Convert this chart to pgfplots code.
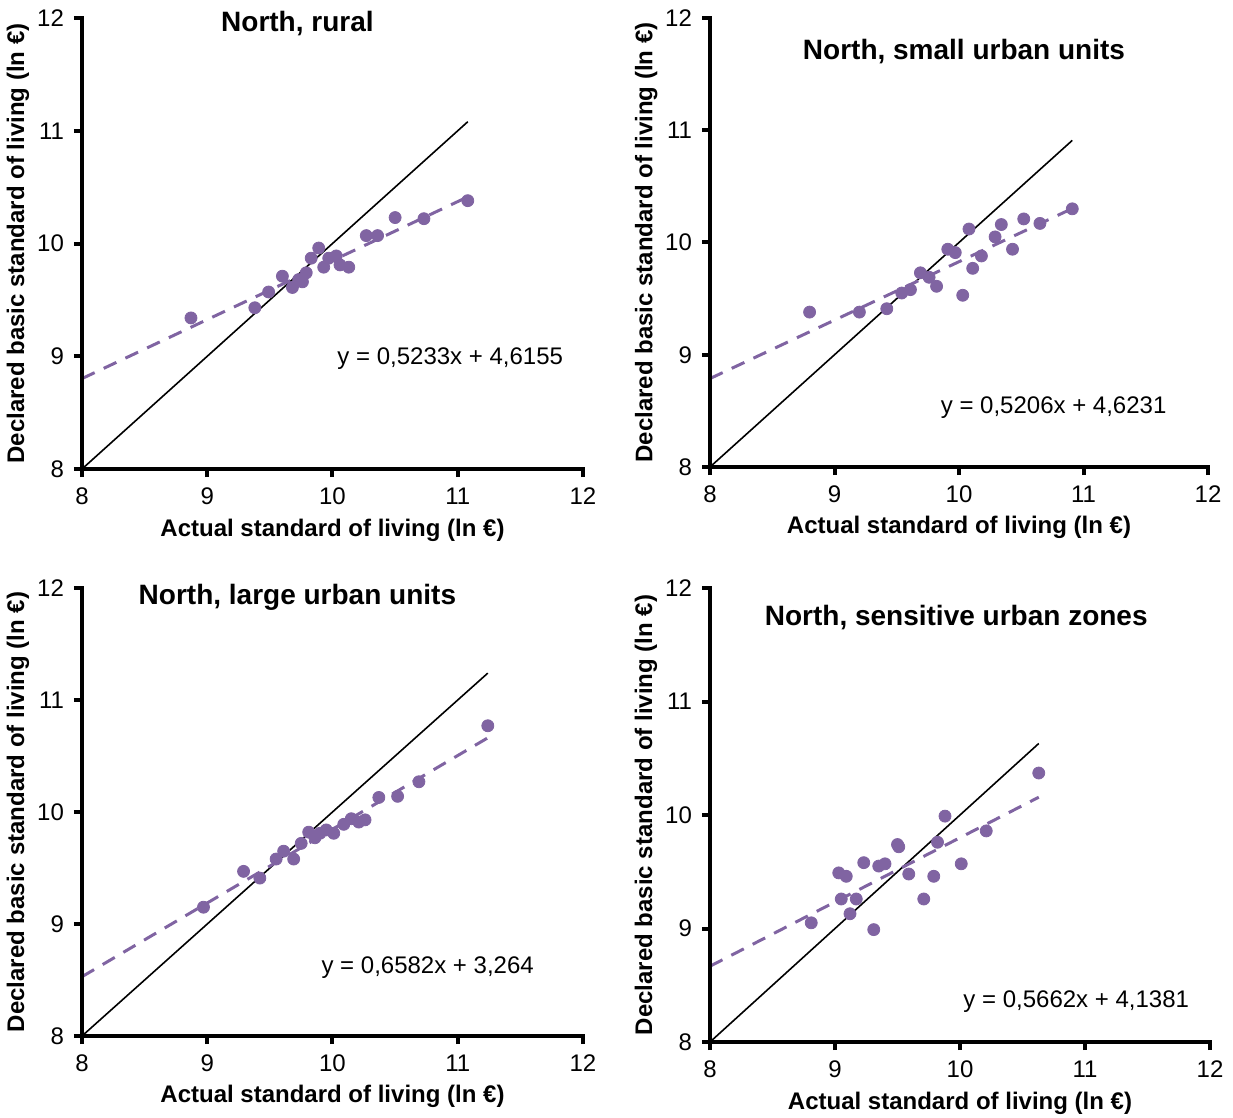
\documentclass[border=0pt]{standalone}
\usepackage{pgfplots}
\pgfplotsset{compat=1.18}
\usetikzlibrary{calc}
\usepackage{fontspec}
\setmainfont{Liberation Sans}
\definecolor{pts}{HTML}{8064A2}
\pgfplotsset{
ptsty/.style={only marks, mark=*, mark size=3pt, color=pts, mark options={draw=pts, fill=pts}},
regsty/.style={color=pts, line width=1.5pt, dash pattern=on 7pt off 5pt, no marks},
idsty/.style={black, line width=0.8pt, no marks},
}
\tikzset{
titlesty/.style={font=\bfseries\fontsize{14}{17}\selectfont},
eqsty/.style={font=\fontsize{12}{14}\selectfont},
}
\pgfplotsset{myax/.style={
  scale only axis,
  xmin=8,xmax=12,ymin=8,ymax=12,
  xtick={8,9,10,11,12}, ytick={8,9,10,11,12},
  axis lines=left,
  axis line style={-, line width=2pt},
  tick align=outside,
  major tick length=4pt,
  tick style={black, line width=2pt},
  tick label style={font=\fontsize{12}{14}\selectfont},
  xticklabel shift=2pt, yticklabel shift=1.5pt,
  xlabel={Actual standard of living (ln €)},
  ylabel={Declared basic standard of living (ln €)},
  label style={font=\bfseries\fontsize{12}{14}\selectfont},
  xlabel style={at={(axis description cs:0.5,-0.135)},anchor=center},
  ylabel style={at={(axis description cs:-0.128,0.5)},anchor=center},
  clip=false,
  /pgf/number format/assume math mode=true,
}}
\newcommand{\deco}[1]{%
  \draw[black, line width=2pt, line cap=rect] (#1.north west) -- (#1.south west) -- (#1.south east);
  \foreach \f in {0,0.25,0.5,0.75,1} {
    \draw[black, line width=2pt] ($(#1.south west)!\f!(#1.south east)$) -- ++(0pt,-4pt);
    \draw[black, line width=2pt] ($(#1.south west)!\f!(#1.north west)$) -- ++(-4pt,0pt);
  }%
}
\begin{document}
\begin{tikzpicture}
% Panel 1
\begin{axis}[myax, name=pA, at={(41pt,-234.5pt)}, anchor=south west, width=250.5pt, height=225.5pt]
\addplot[idsty] coordinates {(8,8) (11.08,11.08)};
\addplot[regsty] coordinates {(8,8.8019) (11.08,10.4137)};
\addplot[ptsty] coordinates {
(8.87,9.34) (9.38,9.43) (9.49,9.57) (9.60,9.71) (9.68,9.61) (9.73,9.68) (9.76,9.66)
(9.79,9.74) (9.83,9.87) (9.89,9.96) (9.93,9.79) (9.97,9.87) (10.03,9.89) (10.06,9.81)
(10.13,9.79) (10.27,10.07) (10.36,10.07) (10.50,10.23) (10.73,10.22) (11.08,10.38)};
\node[titlesty] at (axis cs:9.72,11.95) {North, rural};
\node[eqsty] at (axis cs:10.94,8.98) {y = 0,5233x + 4,6155};
\end{axis}
\deco{pA}
% Panel 2
\begin{axis}[myax, name=pB, at={(355pt,-233.5pt)}, anchor=south west, width=249pt, height=224.5pt]
\addplot[idsty] coordinates {(8,8) (10.91,10.91)};
\addplot[regsty] coordinates {(8,8.7879) (10.91,10.3028)};
\addplot[ptsty] coordinates {
(8.80,9.38) (9.20,9.38) (9.42,9.41) (9.54,9.55) (9.61,9.58) (9.69,9.73) (9.76,9.69)
(9.82,9.61) (9.91,9.94) (9.97,9.91) (10.03,9.53) (10.08,10.12) (10.11,9.77) (10.18,9.88)
(10.29,10.05) (10.34,10.16) (10.43,9.94) (10.52,10.21) (10.65,10.17) (10.91,10.30)};
\node[titlesty] at (axis cs:10.04,11.70) {North, small urban units};
\node[eqsty] at (axis cs:10.76,8.53) {y = 0,5206x + 4,6231};
\end{axis}
\deco{pB}
% Panel 3
\begin{axis}[myax, name=pC, at={(41pt,-518pt)}, anchor=south west, width=250.5pt, height=224pt]
\addplot[idsty] coordinates {(8,8) (11.24,11.24)};
\addplot[regsty] coordinates {(8,8.5296) (11.24,10.6622)};
\addplot[ptsty] coordinates {
(8.97,9.15) (9.29,9.47) (9.42,9.41) (9.55,9.58) (9.61,9.65) (9.69,9.58) (9.75,9.72)
(9.81,9.82) (9.86,9.77) (9.90,9.81) (9.95,9.84) (10.01,9.81) (10.09,9.89) (10.15,9.94)
(10.21,9.91) (10.26,9.93) (10.37,10.13) (10.52,10.14) (10.69,10.27) (11.24,10.77)};
\node[titlesty] at (axis cs:9.72,11.92) {North, large urban units};
\node[eqsty] at (axis cs:10.76,8.61) {y = 0,6582x + 3,264};
\end{axis}
\deco{pC}
% Panel 4
\begin{axis}[myax, name=pD, at={(355pt,-521pt)}, anchor=south west, width=250pt, height=227pt]
\addplot[idsty] coordinates {(8,8) (10.63,10.63)};
\addplot[regsty] coordinates {(8,8.6677) (10.63,10.1568)};
\addplot[ptsty] coordinates {
(8.81,9.05) (9.03,9.49) (9.09,9.46) (9.05,9.26) (9.12,9.13) (9.17,9.26) (9.23,9.58)
(9.31,8.99) (9.35,9.55) (9.40,9.57) (9.50,9.74) (9.51,9.72) (9.59,9.48) (9.71,9.26)
(9.79,9.46) (9.82,9.76) (9.88,9.99) (10.01,9.57) (10.21,9.86) (10.63,10.37)};
\node[titlesty] at (axis cs:9.97,11.74) {North, sensitive urban zones};
\node[eqsty] at (axis cs:10.93,8.36) {y = 0,5662x + 4,1381};
\end{axis}
\deco{pD}
\pgfresetboundingbox
\useasboundingbox (0,0) rectangle (616.5pt,-559pt);
\end{tikzpicture}
\end{document}
